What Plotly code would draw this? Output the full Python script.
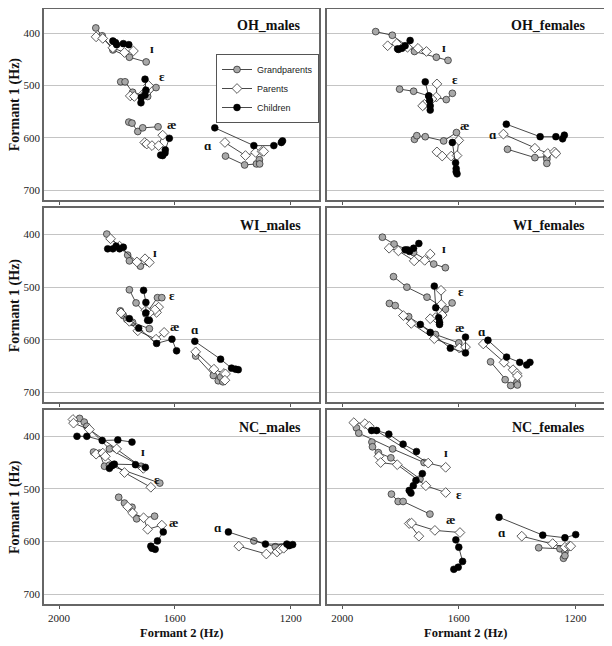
import plotly.graph_objects as go

# ---------------- data (F2 in Hz, F1 in Hz); vowels in order ɪ, ɛ, æ, ɑ separated by None ----
VOWELS = ["ɪ", "ɛ", "æ", "ɑ"]
GROUPS = ["Grandparents", "Parents", "Children"]
PANELS = ["OH_males", "OH_females", "WI_males", "WI_females", "NC_males", "NC_females"]
X_TICKS = [2000, 1600, 1200]
Y_TICKS = [400, 500, 600, 700]

# OH males
OH_M_GP_F2 = [1873, 1851, 1814, 1757, 1699, None, 1787, 1772, 1746, 1694, 1665, None, 1759, 1748, 1728, 1711, 1658, None, 1425, 1359, 1318, 1308, 1307]
OH_M_GP_F1 = [390, 405, 432, 446, 455, None, 493, 493, 513, 521, 504, None, 570, 572, 588, 581, 579, None, 635, 652, 650, 642, 650]
OH_M_P_F2 = [1872, 1849, 1814, 1774, 1743, None, 1754, 1740, 1709, 1700, 1691, None, 1704, 1697, 1679, 1656, 1642, None, 1427, 1356, 1321, 1299, 1293]
OH_M_P_F1 = [407, 410, 428, 437, 434, None, 520, 521, 516, 515, 500, None, 609, 612, 615, 615, 595, None, 609, 634, 628, 626, 626]
OH_M_C_F2 = [1814, 1805, 1801, 1778, 1759, None, 1703, 1700, 1703, 1716, 1717, None, 1619, 1633, 1634, 1642, 1649, None, 1462, 1327, 1258, 1232, 1228]
OH_M_C_F1 = [415, 418, 422, 420, 422, None, 488, 509, 518, 523, 533, None, 601, 623, 629, 634, 633, None, 581, 615, 615, 609, 606]

# OH females
OH_F_GP_F2 = [1885, 1828, 1752, 1677, 1637, None, 1803, 1755, 1703, 1643, 1622, None, 1752, 1744, 1715, 1652, 1608, None, 1433, 1339, 1298, 1298, 1298]
OH_F_GP_F1 = [397, 404, 435, 446, 452, None, 507, 511, 520, 527, 515, None, 603, 596, 598, 606, 590, None, 622, 638, 636, 641, 649]
OH_F_P_F2 = [1844, 1813, 1776, 1740, 1711, None, 1675, 1677, 1692, 1718, 1724, None, 1675, 1657, 1626, 1606, 1600, None, 1447, 1339, 1295, 1272, 1267]
OH_F_P_F1 = [424, 420, 427, 429, 435, None, 497, 522, 526, 536, 539, None, 627, 635, 635, 634, 605, None, 593, 620, 630, 627, 630]
OH_F_C_F2 = [1767, 1784, 1795, 1807, 1810, None, 1715, 1703, 1700, 1698, 1698, None, 1622, 1611, 1609, 1609, 1606, None, 1437, 1321, 1267, 1244, 1238]
OH_F_C_F1 = [414, 424, 429, 431, 430, None, 493, 520, 529, 539, 547, None, 609, 648, 659, 665, 669, None, 574, 598, 598, 602, 595]

# WI males
WI_M_GP_F2 = [1835, 1763, 1757, 1719, 1691, None, 1757, 1734, 1700, 1660, 1645, None, 1788, 1778, 1766, 1746, 1688, None, 1528, 1467, 1450, 1434, 1442]
WI_M_GP_F1 = [399, 439, 450, 460, 453, None, 505, 530, 551, 520, 520, None, 545, 554, 561, 567, 579, None, 631, 668, 678, 680, 671]
WI_M_P_F2 = [1822, 1791, 1731, 1703, 1688, None, 1656, 1663, 1669, 1688, 1700, None, 1786, 1757, 1728, 1665, 1637, None, 1528, 1465, 1430, 1425, 1427]
WI_M_P_F1 = [408, 422, 452, 446, 453, None, 538, 548, 543, 549, 544, None, 549, 565, 583, 599, 586, None, 623, 656, 664, 665, 677]
WI_M_C_F2 = [1832, 1814, 1803, 1791, 1778, None, 1708, 1700, 1700, 1694, 1688, None, 1757, 1725, 1663, 1610, 1594, None, 1531, 1442, 1404, 1390, 1381]
WI_M_C_F1 = [427, 427, 422, 427, 424, None, 506, 529, 549, 563, 563, None, 560, 578, 607, 599, 621, None, 603, 637, 654, 656, 657]

# WI females
WI_F_GP_F2 = [1862, 1822, 1755, 1686, 1646, None, 1824, 1778, 1709, 1646, 1623, None, 1838, 1818, 1772, 1680, 1600, None, 1491, 1441, 1422, 1401, 1399]
WI_F_GP_F1 = [405, 418, 434, 456, 463, None, 480, 500, 519, 542, 530, None, 531, 535, 556, 590, 606, None, 642, 676, 687, 681, 686]
WI_F_P_F2 = [1839, 1807, 1753, 1717, 1698, None, 1661, 1660, 1657, 1680, 1698, None, 1790, 1763, 1684, 1598, 1577, None, 1516, 1445, 1414, 1401, 1399]
WI_F_P_F1 = [426, 431, 450, 449, 437, None, 506, 533, 553, 558, 560, None, 554, 569, 598, 616, 614, None, 608, 643, 657, 664, 669]
WI_F_C_F2 = [1784, 1776, 1769, 1755, 1737, None, 1684, 1679, 1669, 1666, 1666, None, 1732, 1698, 1629, 1577, 1577, None, 1500, 1436, 1391, 1367, 1356]
WI_F_C_F1 = [429, 429, 432, 426, 417, None, 498, 539, 558, 567, 571, None, 571, 586, 616, 625, 595, None, 601, 633, 643, 648, 643]

# NC males
NC_M_GP_F2 = [1929, 1913, 1904, 1826, 1717, None, 1881, 1860, 1843, 1826, 1652, None, 1794, 1774, 1748, 1732, 1670, None, 1327, 1253, 1232, 1222, 1218]
NC_M_GP_F1 = [366, 373, 381, 424, 457, None, 430, 432, 457, 455, 489, None, 516, 527, 535, 557, 552, None, 599, 610, 611, 612, 609]
NC_M_P_F2 = [1952, 1950, 1895, 1801, 1709, None, 1872, 1849, 1840, 1774, 1683, None, 1763, 1746, 1708, 1694, 1645, None, 1379, 1284, 1247, 1236, 1224]
NC_M_P_F1 = [368, 375, 387, 424, 461, None, 434, 432, 438, 469, 497, None, 534, 546, 555, 577, 569, None, 609, 624, 620, 615, 613]
NC_M_C_F2 = [1938, 1904, 1851, 1797, 1748, None, 1826, 1817, 1809, 1736, 1702, None, 1640, 1660, 1683, 1679, 1668, None, 1415, 1287, 1213, 1205, 1193]
NC_M_C_F1 = [400, 400, 408, 407, 411, None, 461, 456, 453, 454, 459, None, 582, 599, 609, 613, 615, None, 582, 605, 605, 608, 606]

# NC females
NC_F_GP_F2 = [1951, 1943, 1827, 1719, None, 1898, 1896, 1876, 1833, 1733, None, 1831, 1808, 1791, 1699, None, 1326, 1253, 1236, 1241, 1236]
NC_F_GP_F1 = [384, 394, 424, 450, None, 411, 420, 431, 441, 481, None, 510, 524, 524, 548, None, 612, 614, 620, 632, 627]
NC_F_P_F2 = [1960, 1922, 1907, 1705, 1645, None, 1874, 1868, 1811, 1713, 1645, None, 1737, 1770, 1762, 1682, 1596, None, 1384, 1278, 1236, 1221, 1216]
NC_F_P_F1 = [374, 376, 381, 451, 459, None, 438, 450, 454, 494, 507, None, 590, 566, 565, 579, 583, None, 590, 604, 611, 609, 609]
NC_F_C_F2 = [1899, 1882, 1840, 1791, 1745, None, 1725, 1747, 1756, 1770, 1764, None, 1610, 1600, 1587, 1602, 1617, None, 1462, 1312, 1236, 1199]
NC_F_C_F1 = [389, 389, 396, 415, 429, None, 471, 484, 494, 503, 508, None, 597, 611, 638, 649, 653, None, 554, 588, 593, 587]

PANEL_DATA = {
    "OH_males": [(OH_M_GP_F2, OH_M_GP_F1), (OH_M_P_F2, OH_M_P_F1), (OH_M_C_F2, OH_M_C_F1)],
    "OH_females": [(OH_F_GP_F2, OH_F_GP_F1), (OH_F_P_F2, OH_F_P_F1), (OH_F_C_F2, OH_F_C_F1)],
    "WI_males": [(WI_M_GP_F2, WI_M_GP_F1), (WI_M_P_F2, WI_M_P_F1), (WI_M_C_F2, WI_M_C_F1)],
    "WI_females": [(WI_F_GP_F2, WI_F_GP_F1), (WI_F_P_F2, WI_F_P_F1), (WI_F_C_F2, WI_F_C_F1)],
    "NC_males": [(NC_M_GP_F2, NC_M_GP_F1), (NC_M_P_F2, NC_M_P_F1), (NC_M_C_F2, NC_M_C_F1)],
    "NC_females": [(NC_F_GP_F2, NC_F_GP_F1), (NC_F_P_F2, NC_F_P_F1), (NC_F_C_F2, NC_F_C_F1)],
}

# vowel label positions (F2, F1) per panel, in order ɪ, ɛ, æ, ɑ
LABEL_POS = {
    "OH_males": [(1679, 429), (1646, 483), (1610, 574), (1484, 614)],
    "OH_females": [(1652, 427), (1613, 488), (1579, 576), (1483, 593)],
    "WI_males": [(1668, 435), (1610, 515), (1600, 575), (1530, 581)],
    "WI_females": [(1652, 427), (1594, 509), (1598, 577), (1520, 584)],
    "NC_males": [(1709, 429), (1660, 483), (1606, 564), (1452, 573)],
    "NC_females": [(1644, 430), (1600, 510), (1630, 558), (1453, 583)],
}

# ---------------- styling ----------------
OFF = 8                      # page body margin of the browser
W, H = 612 - OFF, 646 - OFF  # figure size so that it fits the window
SERIF = "Liberation Serif, Times New Roman, DejaVu Serif, serif"
SANS = "Liberation Sans, Arial, sans-serif"
MARKERS = [
    dict(symbol="circle", size=6.8, color="#a8a8a8", line=dict(color="#222", width=0.7)),
    dict(symbol="diamond", size=7.5, color="white", line=dict(color="#333", width=0.8)),
    dict(symbol="circle", size=6.8, color="black", line=dict(color="black", width=0.6)),
]

# panel borders in page pixels
COL_PX = [(44, 319), (327, 604)]
ROW_PX = [(8.6, 200), (208.3, 402.3), (410, 604)]
X_RANGE = [2052, 1102]
Y_RANGE = [719, 353]


def fx(p):
    return (p - OFF) / W


def fy(p):
    return 1 - (p - OFF) / H


fig = go.Figure()
annotations = []
layout_axes = {}

for i, pname in enumerate(PANELS):
    r, c = divmod(i, 2)
    n = "" if i == 0 else str(i + 1)
    xa, ya = "x" + n, "y" + n
    x0, x1 = COL_PX[c]
    y0, y1 = ROW_PX[r]
    yr = Y_RANGE if r == 0 else [719, 350]
    for g, (f2, f1) in enumerate(PANEL_DATA[pname]):
        fig.add_trace(go.Scatter(
            x=f2, y=f1, mode="lines+markers", name=GROUPS[g],
            showlegend=(i == 0), legendgroup=GROUPS[g],
            line=dict(color="#1a1a1a", width=0.8), marker=MARKERS[g],
            connectgaps=False, xaxis=xa, yaxis=ya, hoverinfo="skip",
        ))
    layout_axes["xaxis" + n] = dict(
        domain=[fx(x0), fx(x1)], anchor=ya, range=X_RANGE,
        tickvals=X_TICKS, showticklabels=(r == 2), ticks="outside", ticklen=3,
        tickcolor="#555", showgrid=False, zeroline=False,
        showline=True, linecolor="#666", linewidth=1.5, mirror=True,
        tickfont=dict(family=SERIF, size=11, color="#222"),
    )
    layout_axes["yaxis" + n] = dict(
        domain=[max(fy(y1), 0), min(fy(y0), 1)], anchor=xa, range=yr,
        tickvals=Y_TICKS, showticklabels=(c == 0), ticks="",
        showgrid=True, gridcolor="#c4c4c4", gridwidth=1, zeroline=False,
        showline=True, linecolor="#666", linewidth=1.5, mirror=True,
        tickfont=dict(family=SERIF, size=11, color="#222"),
    )
    # panel title
    annotations.append(dict(
        text="<b>" + pname + "</b>", xref=xa + " domain", yref=ya + " domain",
        x=0.94, y=0.91, xanchor="right", yanchor="middle", showarrow=False,
        font=dict(family=SERIF, size=14, color="#111"),
    ))
    # vowel labels
    for v, (lx, ly) in zip(VOWELS, LABEL_POS[pname]):
        annotations.append(dict(
            text="<b>" + v + "</b>", xref=xa, yref=ya, x=lx, y=ly,
            showarrow=False, font=dict(family=SERIF, size=13, color="#111"),
        ))
    # y-axis title on left column
    if c == 0:
        annotations.append(dict(
            text="<b>Formant 1 (Hz)</b>", xref="paper", yref=ya + " domain",
            x=fx(15), y=0.5, textangle=-90, showarrow=False,
            xanchor="center", yanchor="middle",
            font=dict(family=SERIF, size=14, color="#111"),
        ))
    if r == 2:
        annotations.append(dict(
            text="<b>Formant 2 (Hz)</b>", xref=xa + " domain", yref="paper",
            x=0.5, y=fy(633), showarrow=False,
            xanchor="center", yanchor="middle",
            font=dict(family=SERIF, size=12.5, color="#111"),
        ))

fig.update_layout(
    width=W, height=H, margin=dict(l=0, r=0, t=0, b=0),
    paper_bgcolor="white", plot_bgcolor="white",
    showlegend=True,
    legend=dict(
        x=fx(216), y=fy(54), xanchor="left", yanchor="top",
        bgcolor="white", bordercolor="#555", borderwidth=1,
        font=dict(family=SANS, size=9, color="#222"),
        itemwidth=30, tracegroupgap=0,
    ),
    annotations=annotations,
    **layout_axes,
)

fig.write_html("out.html")
